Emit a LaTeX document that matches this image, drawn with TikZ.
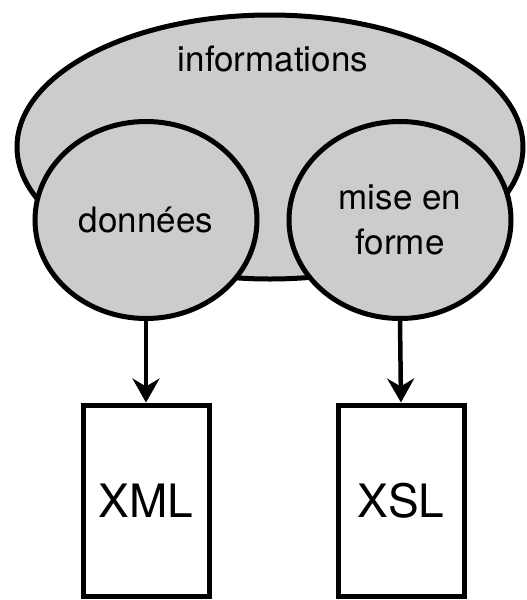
\documentclass[tikz,border=0pt]{standalone}
\usepackage{fontspec}
\setmainfont{TeX Gyre Heros}
\usetikzlibrary{shapes.geometric,arrows.meta}
\definecolor{blobgray}{HTML}{CCCCCC}

\begin{document}
\begin{tikzpicture}[x=1pt,y=1pt,
  blob/.style={draw, ellipse, fill=blobgray, line width=5pt, inner sep=0pt},
  doc/.style={draw, rectangle, fill=white, line width=5pt, minimum width=126pt, minimum height=191pt},
  txt/.style={font=\fontsize{35}{45}\selectfont},
  flow/.style={line width=4.5pt, -{Stealth[length=24pt,width=27pt,inset=8pt]}}]
\useasboundingbox (0,0) rectangle (527,-600);

\node[blob, minimum width=506pt, minimum height=264pt] (info) at (270,-147) {};
\node[txt, anchor=base] (infotxt) at (273,-71) {informations};

\node[blob, minimum width=222pt, minimum height=197pt, txt] (donnees) at (146,-220) {données};
\node[blob, minimum width=222pt, minimum height=197pt, txt, align=center] (mise) at (400,-220) {mise en\\forme};

\node[doc, font=\fontsize{46}{50}\selectfont] (xml) at (146,-500.5) {XML};
\node[doc, font=\fontsize{46}{50}\selectfont] (xsl) at (401,-500.5) {XSL};

\path[draw,flow] (donnees.south) -- (xml.north);
\path[draw,flow] (mise.south) -- (xsl.north);
\end{tikzpicture}
\end{document}
